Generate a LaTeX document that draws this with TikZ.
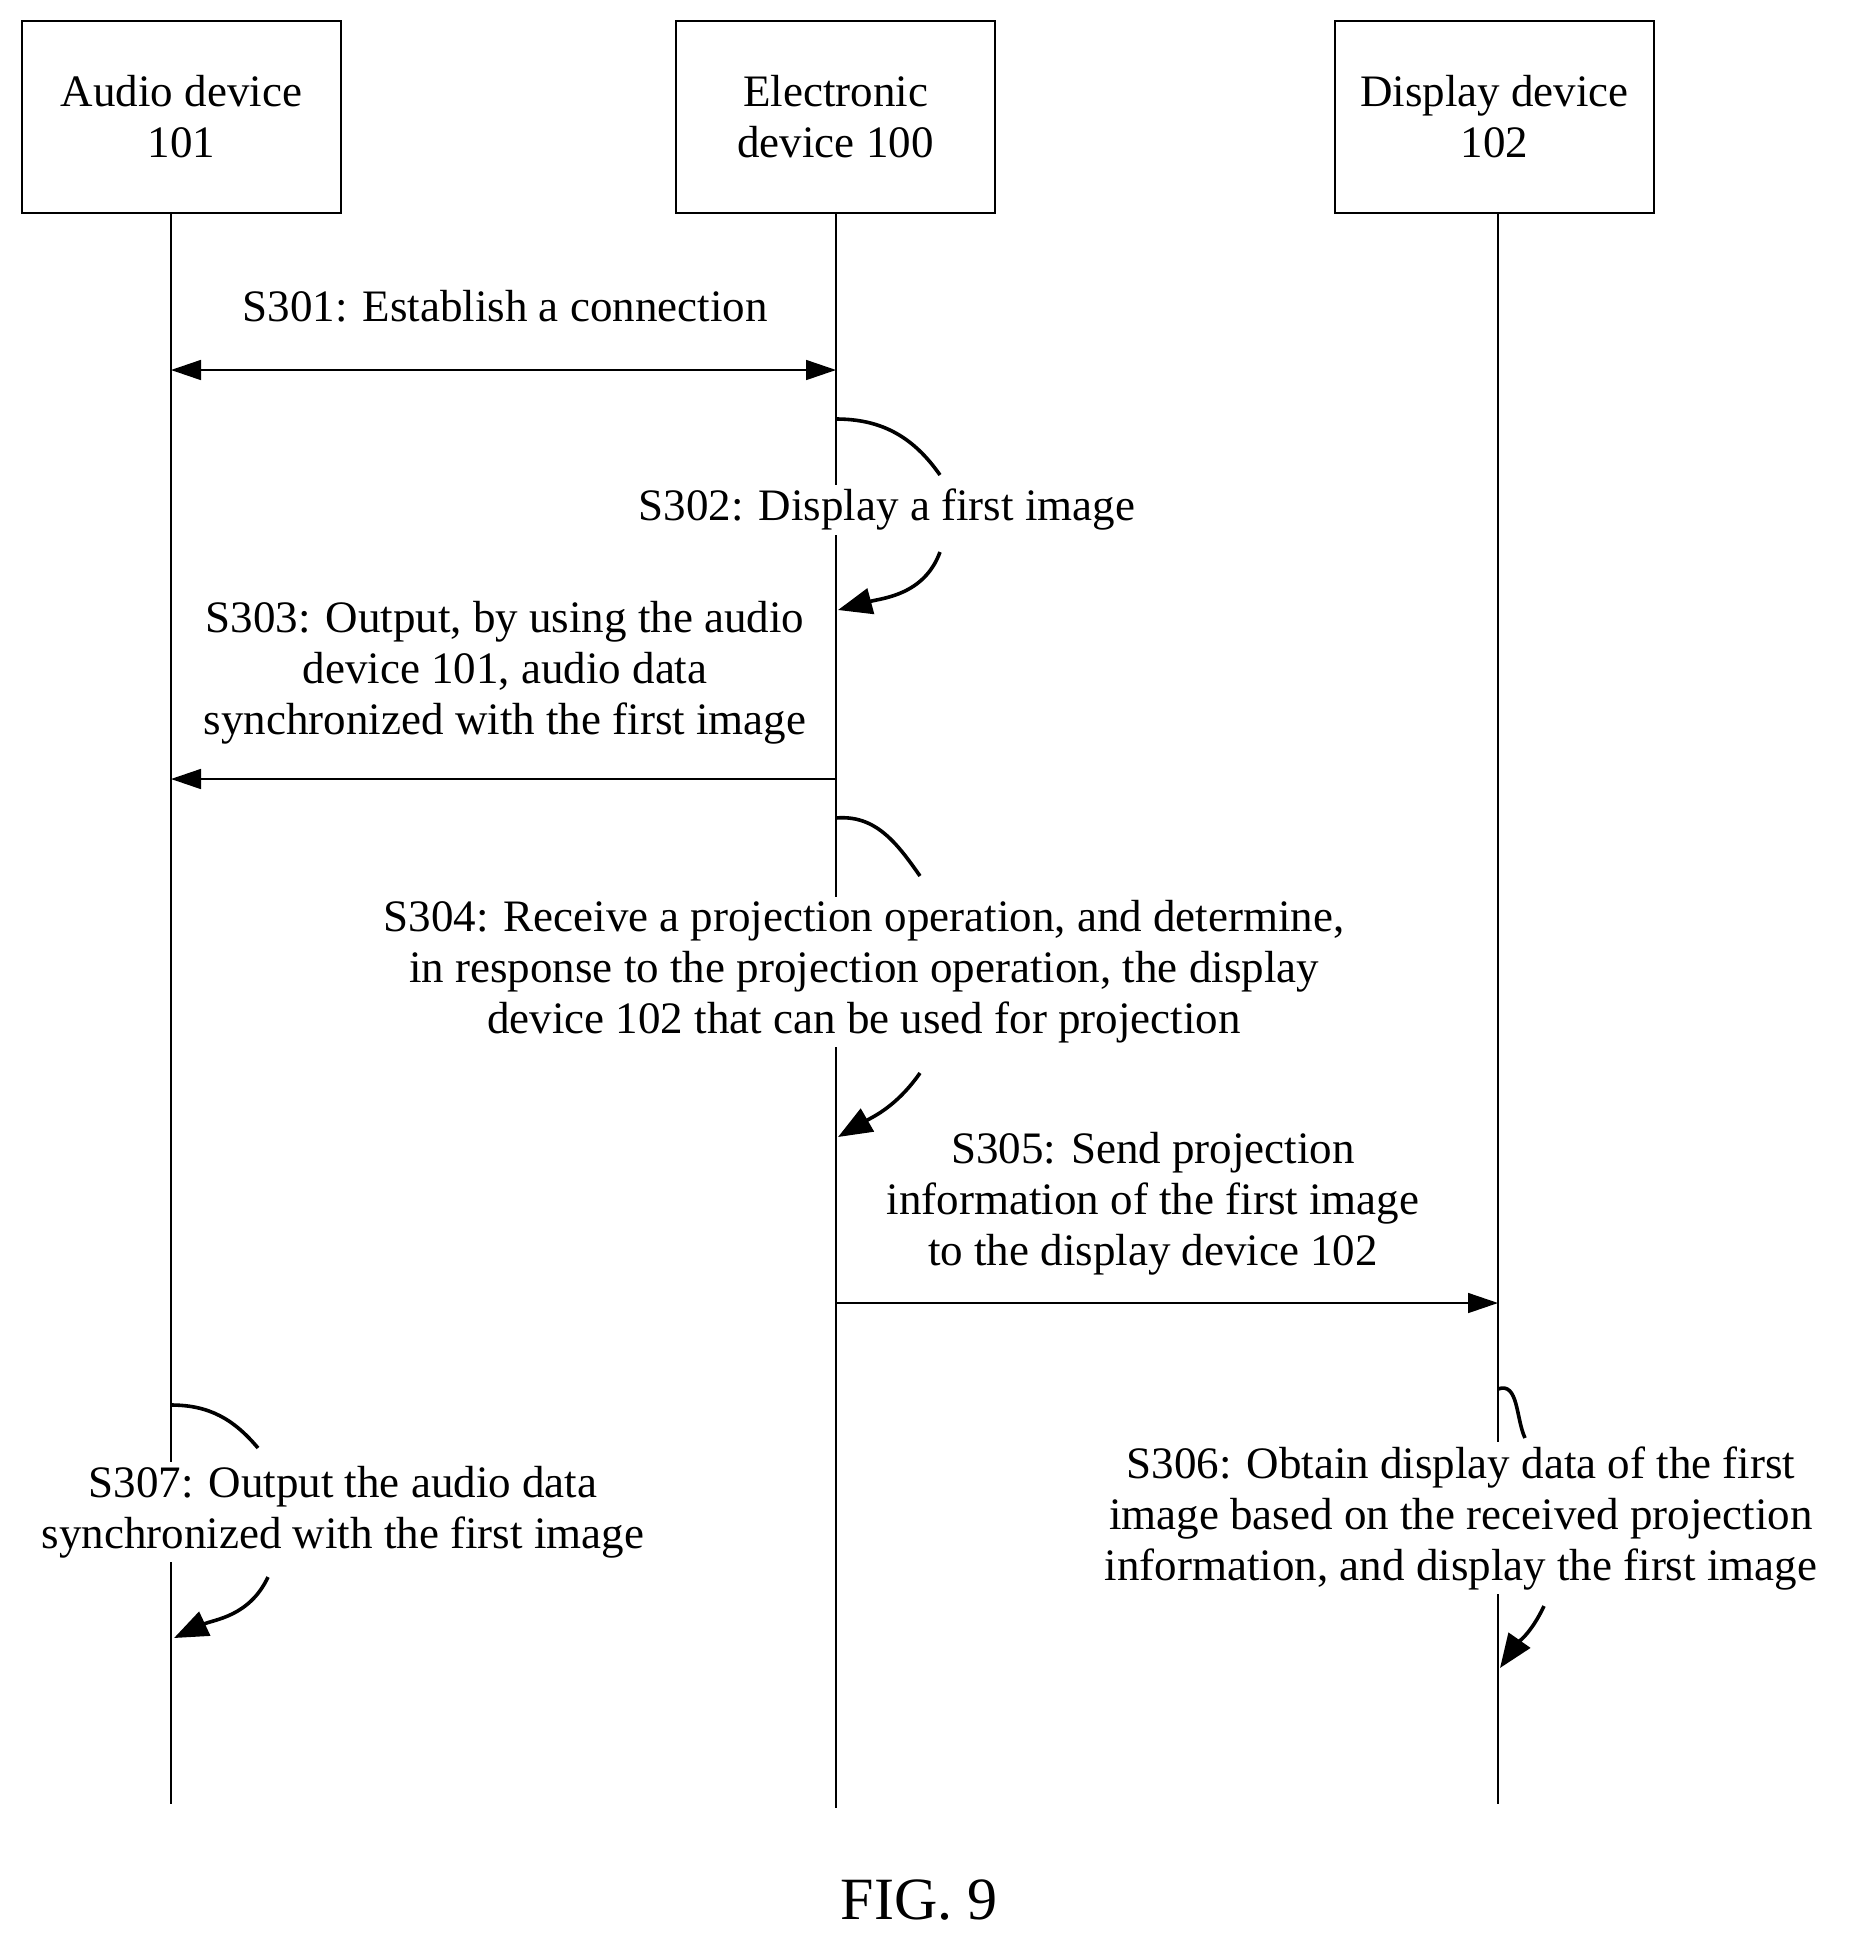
\documentclass[tikz,border=0pt]{standalone}
\usepackage{fontspec}
\setmainfont{Liberation Serif}
\usetikzlibrary{arrows.meta}
\begin{document}
\begin{tikzpicture}[x=0.5pt,y=-0.5pt,
  box/.style={draw,line width=0.8pt,minimum width=159.5pt,minimum height=96pt,align=center,font=\fontsize{22.5}{25.5}\selectfont},
  lbl/.style={align=center,font=\fontsize{22.5}{25.5}\selectfont,fill=white,inner xsep=1pt,inner ysep=2pt},
  life/.style={line width=0.8pt},
  msg/.style={line width=0.8pt,-{Triangle[length=15pt,width=10pt]}},
  self/.style={line width=1.8pt},
  selfa/.style={line width=1.8pt,-{Triangle[length=17pt,width=13pt]}}]
\useasboundingbox (0,0) rectangle (1858,1950);
\node[box] (a) at (181.5,117) {Audio device\\101};
\node[box] (e) at (835.5,117) {Electronic\\device 100};
\node[box] (d) at (1494.5,117) {Display device\\102};
\coordinate (ab) at (171,1804);
\coordinate (eb) at (836,1808);
\coordinate (db) at (1498,1804);
\draw[life] (171,213) -- (ab);
\draw[life] (836,213) -- (eb);
\draw[life] (1498,213) -- (db);
% S301
\coordinate (s1a) at (171,370); \coordinate (s1e) at (836,370);
\draw[msg,{Triangle[length=15pt,width=10pt]}-{Triangle[length=15pt,width=10pt]}] (s1a) -- (s1e);
\node[lbl] (t1) at (505,306) {S301: Establish a connection};
% S302
\coordinate (p1) at (836,419); \coordinate (p2) at (940,475);
\coordinate (p3) at (940,552); \coordinate (p4) at (838,610);
\draw[self] (p1) to[out=0,in=125] (p2);
\draw[selfa] (p3) to[out=-110,in=15] (p4);
% S303
\coordinate (s3e) at (836,779); \coordinate (s3a) at (171,779);
\draw[msg] (s3e) -- (s3a);
% S304
\coordinate (q1) at (836,818); \coordinate (q2) at (920,876);
\coordinate (q3) at (920,1073); \coordinate (q4) at (838,1137);
\draw[self] (q1) to[out=5,in=125] (q2);
\draw[selfa] (q3) to[out=-125,in=30] (q4);
% S305
\coordinate (s5e) at (836,1303); \coordinate (s5d) at (1498,1303);
\draw[msg] (s5e) -- (s5d);
% S306
\coordinate (r1) at (1498,1389); \coordinate (r2) at (1525,1438);
\coordinate (r3) at (1544,1606); \coordinate (r4) at (1500,1668);
\draw[self] (r1) to[out=20,in=115] (r2);
\draw[selfa] (r3) to[out=-115,in=55] (r4);
% S307
\coordinate (u1) at (171,1405); \coordinate (u2) at (258,1448);
\coordinate (u3) at (268,1577); \coordinate (u4) at (174,1638);
\draw[self] (u1) to[out=0,in=130] (u2);
\draw[selfa] (u3) to[out=-115,in=25] (u4);
\node[lbl] (t2) at (887,510) {S302: Display a first image};
\node[lbl] (t3) at (505,673) {S303: Output, by using the audio\\device 101, audio data\\synchronized with the first image};
\node[lbl] (t4) at (864,972) {S304: Receive a projection operation, and determine,\\in response to the projection operation, the display\\device 102 that can be used for projection};
\node[lbl] (t5) at (1153,1204) {S305: Send projection\\information of the first image\\to the display device 102};
\node[lbl] (t6) at (1461,1518) {S306: Obtain display data of the first\\image based on the received projection\\information, and display the first image};
\node[lbl] (t7) at (343,1512) {S307: Output the audio data\\synchronized with the first image};
\node[lbl,font=\fontsize{30}{34}\selectfont] (fig) at (919,1900) {FIG. 9};
\end{tikzpicture}
\end{document}
